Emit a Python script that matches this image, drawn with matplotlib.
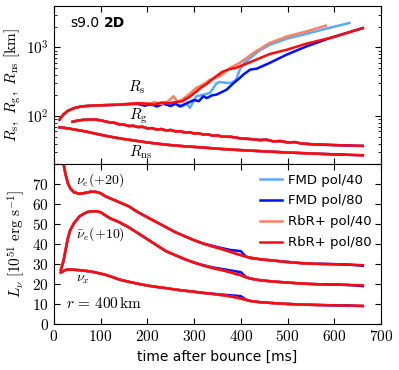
import numpy as np
import matplotlib
matplotlib.use('Agg')
import matplotlib.pyplot as plt
from matplotlib.ticker import FuncFormatter, MultipleLocator, LogLocator

plt.rcParams['mathtext.fontset'] = 'cm'
plt.rcParams['font.family'] = 'DejaVu Sans'

# model names and colours
models = ['FMD pol/40', 'FMD pol/80', 'RbR+ pol/40', 'RbR+ pol/80']
colors = ['#5aa8ff', '#0010ff', '#ff8060', '#ff0a0a']
t_end = [632, 661, 582, 661]

# shock radius [km], one curve per model
t_rs_fmd40 = [12, 20, 30, 45, 60, 80, 100, 130, 160, 180, 200, 215, 230, 245, 260, 275, 285, 291,
              298, 305, 320, 334, 348, 355, 368, 380, 390, 398, 408, 420, 440, 462, 500, 534, 580, 632]
rs_fmd40 = [89, 105, 120, 132, 139, 142, 144, 146, 150, 152, 148, 142, 155, 145, 150, 140, 150, 132,
            160, 195, 205, 218, 300, 315, 305, 305, 340, 480, 600, 700, 900, 1090, 1350, 1530, 1850, 2260]

t_rs_fmd80 = [12, 20, 30, 45, 60, 80, 100, 130, 160, 180, 195, 210, 220, 235, 250, 260, 270, 280, 290,
              300, 310, 320, 327, 338, 348, 360, 370, 384, 398, 405, 420, 434, 462, 498, 541, 591, 661]
rs_fmd80 = [89, 105, 120, 132, 139, 142, 144, 146, 150, 150, 142, 150, 138, 152, 140, 152, 138, 150, 160,
            172, 165, 195, 183, 200, 206, 225, 244, 300, 360, 400, 475, 490, 595, 783, 1035, 1370, 1910]

t_rs_rbr40 = [12, 20, 30, 45, 60, 80, 100, 130, 160, 180, 200, 215, 230, 245, 256, 265, 275, 290, 305,
              320, 334, 345, 355, 365, 377, 398, 427, 462, 500, 540, 582]
rs_rbr40 = [89, 105, 120, 132, 139, 142, 144, 146, 152, 156, 150, 160, 150, 165, 195, 160, 175, 210, 258,
            290, 340, 360, 380, 430, 503, 595, 830, 1160, 1450, 1700, 2070]

t_rs_rbr80 = [12, 20, 30, 45, 60, 80, 100, 130, 160, 180, 200, 215, 230, 245, 260, 275, 290, 300, 315,
              330, 345, 360, 375, 390, 410, 430, 462, 500, 540, 600, 661]
rs_rbr80 = [89, 105, 120, 132, 139, 142, 144, 146, 150, 154, 152, 147, 158, 154, 160, 165, 190, 215, 260,
            305, 370, 440, 480, 505, 570, 650, 800, 930, 1130, 1420, 1900]

# gain radius and neutron star radius [km]
t_rg = [40, 50, 60, 70, 80, 90, 100, 110, 120, 130, 140, 150, 160, 170, 180, 190, 200, 210, 220, 230,
        240, 250, 260, 270, 280, 290, 300, 310, 320, 330, 340, 350, 360, 380, 400, 420, 440, 455, 470,
        485, 500, 515, 530, 560, 600, 630, 661]
rg = [83, 86, 88, 89, 89.5, 89, 87, 84, 81, 80, 76, 75.5, 72, 72.5, 69.5, 70, 66.5, 67, 64, 65,
      62, 63, 60, 60.5, 58, 58.5, 56, 56.5, 54, 54.5, 52, 52.5, 50.5, 50, 47.5, 46.5, 45, 45.5, 43,
      43.5, 41.5, 42, 40, 38.8, 38, 37.5, 37]

t_rns = [12, 30, 50, 70, 90, 110, 130, 150, 170, 200, 240, 280, 320, 355, 390, 427, 460, 498,
         540, 580, 620, 661]
rns = [69, 66.5, 63, 59.5, 55.5, 52, 49, 46.5, 44.5, 41.5, 38.5, 36.5, 35, 33.5, 32.4, 31.4, 30.6, 29.7,
       28.9, 28.2, 27.6, 27]

# luminosities at r = 400 km [1e51 erg/s], nu_e shifted +20, anti-nu_e +10
t_lum = [15, 18, 21, 25, 30, 35, 43, 55, 70, 80, 90, 100, 110, 120, 140, 160, 180, 200, 220, 240,
         260, 280, 300, 320, 340, 360, 380, 390, 400, 410, 420, 440, 470, 500, 530, 560, 600, 630, 661]
lnue = [110, 90, 80, 75, 70.5, 68, 66, 65.2, 65.8, 66.3, 66.2, 65.5, 64, 63, 61, 59, 56, 53.5, 51, 48.5,
        46, 44, 42, 40.3, 38.8, 37.5, 36, 35.2, 34.5, 33.8, 33.3, 32.5, 31.8, 31, 30.5, 30.2, 30, 29.8, 29.5]
lanue = [27, 29.5, 32, 37, 43, 47, 50.5, 54, 56, 56.5, 56.5, 56, 54.5, 53, 51, 48.5, 45.5, 42.5, 39.5, 36.5,
         34.5, 32.5, 30.8, 29.3, 28, 27, 25.8, 25.1, 24.5, 23.5, 22.8, 22, 21.3, 20.8, 20.3, 20, 19.8, 19.6, 19.4]
lnux = [25.8, 26.2, 26.6, 27.1, 27.3, 27.3, 27.2, 27, 26.6, 26.3, 25.8, 25.3, 24.7, 24, 22.3, 21.2, 20.2, 19.3,
        18.6, 18, 17.3, 16.7, 16.2, 15.6, 15.1, 14.5, 13.8, 13.3, 12.8, 12.2, 11.6, 11, 10.5, 10.1, 9.8, 9.6,
        9.4, 9.3, 9.2]

# FMD pol/80 stays higher a bit longer before the drop near 410 ms
lnue_fmd80 = [110, 90, 80, 75, 70.5, 68, 66, 65.2, 65.8, 66.3, 66.2, 65.5, 64, 63, 61, 59, 56, 53.5, 51, 48.5,
              46, 44, 42, 40.3, 39.2, 38, 37, 36.8, 36.5, 34, 33, 32.5, 31.8, 31.2, 30.5, 30.2, 30, 29.8, 29.2]
lanue_fmd80 = [27, 29.5, 32, 37, 43, 47, 50.5, 54, 56, 56.5, 56.5, 56, 54.5, 53, 51, 48.5, 45.5, 42.5, 39.5, 36.5,
               34.5, 32.5, 30.8, 29.5, 28.4, 27.6, 26.8, 26.4, 26, 23.8, 22.8, 22, 21.3, 20.8, 20.3, 20, 19.8, 19.6, 19]
lnux_fmd80 = [25.8, 26.2, 26.6, 27.1, 27.3, 27.3, 27.2, 27, 26.6, 26.3, 25.8, 25.3, 24.7, 24, 22.3, 21.2, 20.2,
              19.3, 18.6, 18, 17.3, 16.7, 16.2, 15.6, 15.2, 14.8, 14.4, 14.2, 14, 12.4, 11.6, 11, 10.5, 10.1, 9.8,
              9.6, 9.4, 9.3, 9.0]

rs_t = [t_rs_fmd40, t_rs_fmd80, t_rs_rbr40, t_rs_rbr80]
rs_v = [rs_fmd40, rs_fmd80, rs_rbr40, rs_rbr80]


def cut(t, y, tmax):
    t = np.asarray(t, float)
    y = np.asarray(y, float)
    m = t <= tmax
    return t[m], y[m]


fig = plt.figure(figsize=(3.99, 3.70), dpi=100)
ax1 = fig.add_axes([0.135, 0.556, 0.82, 0.428])
ax2 = fig.add_axes([0.135, 0.124, 0.82, 0.432])

lw = 1.8
for i in range(4):
    ax1.plot(rs_t[i], rs_v[i], color=colors[i], lw=lw)
    ax1.plot(*cut(t_rg, rg, t_end[i]), color=colors[i], lw=lw)
    ax1.plot(*cut(t_rns, rns, t_end[i]), color=colors[i], lw=lw)

    if i == 1:
        curves = [lnue_fmd80, lanue_fmd80, lnux_fmd80]
    else:
        curves = [lnue, lanue, lnux]
    for j, c in enumerate(curves):
        ax2.plot(*cut(t_lum, c, t_end[i]), color=colors[i], lw=lw,
                 label=models[i] if j == 0 else None)

# upper panel
ax1.set_yscale('log')
ax1.set_xlim(0, 700)
ax1.set_ylim(20, 4000)
ax1.xaxis.set_major_locator(MultipleLocator(100))
ax1.set_xticklabels([])
ax1.yaxis.set_major_locator(LogLocator(base=10, numticks=10))
ax1.yaxis.set_minor_locator(LogLocator(base=10, subs=np.arange(2, 10), numticks=10))
ax1.yaxis.set_major_formatter(FuncFormatter(lambda v, p: r'$10^{%d}$' % int(round(np.log10(v)))))
ax1.yaxis.set_minor_formatter(FuncFormatter(lambda v, p: ''))
ax1.set_ylabel(r'$R_\mathrm{s},\ R_\mathrm{g},\ R_\mathrm{ns}\ [\mathrm{km}]$', fontsize=11, labelpad=2)

ax1.text(0.049, 0.89, 's9.0', transform=ax1.transAxes, fontsize=10, va='center')
ax1.text(0.152, 0.89, '2D', transform=ax1.transAxes, fontsize=10, va='center', fontweight='bold')
ax1.text(158, 265, r'$R_\mathrm{s}$', fontsize=11, va='center')
ax1.text(160, 100, r'$R_\mathrm{g}$', fontsize=11, va='center')
ax1.text(160, 30, r'$R_\mathrm{ns}$', fontsize=11, va='center')

# lower panel
ax2.set_xlim(0, 700)
ax2.set_ylim(0, 80)
ax2.xaxis.set_major_locator(MultipleLocator(100))
ax2.yaxis.set_major_locator(MultipleLocator(10))
fmt = FuncFormatter(lambda v, p: r'$%g$' % v)
ax2.xaxis.set_major_formatter(fmt)
ax2.yaxis.set_major_formatter(FuncFormatter(lambda v, p: r'$%g$' % v if v < 75 else ''))
ax2.set_xlabel('time after bounce [ms]', fontsize=10)
ax2.set_ylabel(r'$L_\nu\ [10^{51}\ \mathrm{erg\ s^{-1}}]$', fontsize=11, labelpad=4)

ax2.text(48, 72, r'$\nu_e(+20)$', fontsize=10, va='center')
ax2.text(48, 45, r'$\bar{\nu}_e(+10)$', fontsize=10, va='center')
ax2.text(48, 22.5, r'$\nu_x$', fontsize=10, va='center')
ax2.text(27, 10.5, r'$r\,=\,400\,\mathrm{km}$', fontsize=11, va='center')

ax2.legend(loc='upper right', frameon=False, fontsize=9.5, handlelength=1.6,
           handletextpad=0.5, labelspacing=0.6, borderaxespad=0.3)

for ax in (ax1, ax2):
    ax.tick_params(which='both', direction='in', top=True, right=True, labelsize=11)
    ax.tick_params(which='major', length=4)
    ax.tick_params(which='minor', length=2)

fig.savefig('out.png', dpi=100)
